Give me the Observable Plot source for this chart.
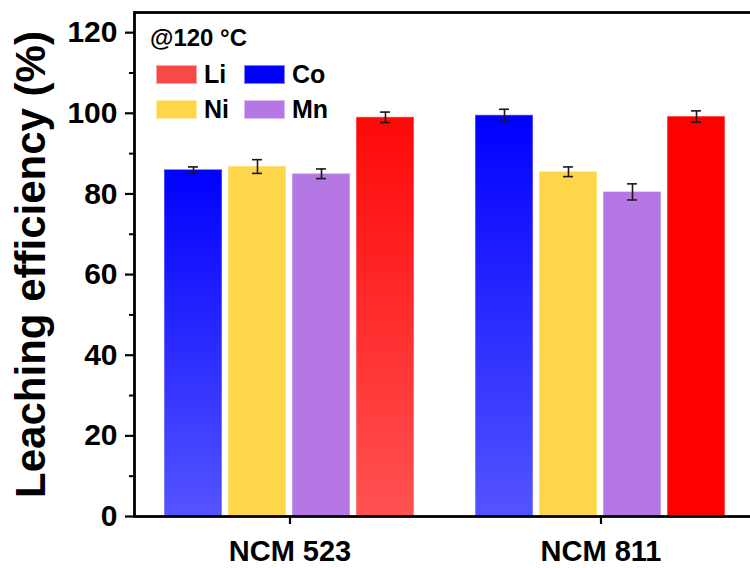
<!DOCTYPE html>
<html>
<head>
<meta charset="utf-8">
<script src="https://cdn.jsdelivr.net/npm/d3@7"></script>
<script src="https://cdn.jsdelivr.net/npm/@observablehq/plot@0.6"></script>
<style>
  html, body { margin: 0; padding: 0; background: #fff; overflow: hidden; }
  #chart { position: relative; width: 750px; height: 568px; overflow: hidden;
           font-family: "Liberation Sans", Arial, sans-serif; font-weight: bold; }
  #chart svg { position: absolute; left: 0; top: 0; max-width: none !important; width: 760px !important; height: 568px !important; }
  .legend { position: absolute; color: #000; }
  .legend .title { position: absolute; left: 150px; top: 26px; font-size: 24px; line-height: 24px; white-space: nowrap; }
  .legend .item { position: absolute; display: flex; align-items: center; font-size: 25px; line-height: 25px; white-space: nowrap; }
  .legend .swatch { width: 41px; height: 19px; margin-right: 7px; box-sizing: border-box; border: 1px solid rgba(255,255,255,0.5); }
</style>
</head>
<body>
<div id="chart"></div>
<script>
// Leaching efficiency of each metal for two cathode chemistries at 120 °C
const groups = ["NCM 523", "NCM 811"];
const elements = ["Co", "Ni", "Mn", "Li"];
const ncm523 = [86.0, 86.8, 85.0, 99.0];
const ncm811 = [99.5, 85.5, 80.5, 99.2];
const err523 = [0.7, 1.7, 1.2, 1.3];
const err811 = [1.5, 1.2, 2.0, 1.4];
const yTicks = [0, 20, 40, 60, 80, 100, 120];
const yMinor = [10, 30, 50, 70, 90, 110];
const yLabel = "Leaching efficiency (%)";
const legendTitle = "@120 °C";
const legendItems = ["Li", "Co", "Ni", "Mn"];

const values = [ncm523, ncm811];
const errors = [err523, err811];
const rows = groups.flatMap((g, gi) =>
  elements.map((e, i) => ({group: g, element: e, value: values[gi][i], err: errors[gi][i]}))
);

// bar paints (gradients are defined in <defs> after rendering)
const flat = {Ni: "#FFD54A", Mn: "#B477E3"};
function barFill(d) {
  if (d.element === "Co") return "url(#grad-co)";
  if (d.element === "Li") return d.group === groups[0] ? "url(#grad-li)" : "#FF0000";
  return flat[d.element];
}
const legendColor = {Li: "#F84848", Co: "#0000FF", Ni: "#FFD54A", Mn: "#B477E3"};

const font = "'Liberation Sans', Arial, sans-serif";

const plot = Plot.plot({
  width: 760,
  height: 568,
  marginLeft: 133,
  marginRight: 4,
  marginTop: 12,
  marginBottom: 52,
  style: {fontFamily: font, fontWeight: "bold", background: "white", overflow: "visible"},
  fx: {domain: groups, padding: 0, axis: null, label: null},
  x: {domain: elements, paddingInner: 0.093, paddingOuter: 0.465, axis: null},
  y: {domain: [0, 125], axis: null},
  color: {type: "identity"},
  marks: [
    Plot.barY(rows, {
      fx: "group", x: "element", y: "value", fill: barFill,
      stroke: "white", strokeOpacity: 0.45, strokeWidth: 1.2
    }),
    Plot.ruleX(rows, {
      fx: "group", x: "element", y1: d => d.value - d.err, y2: d => d.value + d.err,
      stroke: "#1a1a1a", strokeWidth: 1.6
    }),
    Plot.tickY(rows, {
      fx: "group", x: "element", y: d => d.value - d.err,
      stroke: "#1a1a1a", strokeWidth: 1.6, insetLeft: 24, insetRight: 24
    }),
    Plot.tickY(rows, {
      fx: "group", x: "element", y: d => d.value + d.err,
      stroke: "#1a1a1a", strokeWidth: 1.6, insetLeft: 24, insetRight: 24
    }),
    Plot.axisY(yMinor, {
      tickSize: 5, strokeWidth: 2, tickFormat: () => "", label: null
    }),
    Plot.axisY(yTicks, {
      tickSize: 9, tickPadding: 8, strokeWidth: 2.2, fontSize: 30, fontWeight: "bold",
      tickFormat: d => String(d), label: null
    }),
    Plot.axisFx({
      anchor: "bottom", tickSize: 8, tickPadding: 16, strokeWidth: 2.2,
      fontSize: 29, fontWeight: "bold", label: null
    }),
    Plot.frame({facet: "super", stroke: "black", strokeWidth: 2.8}),
    Plot.text([yLabel], {
      facet: "super", frameAnchor: "left", text: d => d, rotate: -90,
      dx: -103, fontSize: 42, fontWeight: "bold", fill: "black",
      textAnchor: "middle", lineAnchor: "middle"
    })
  ]
});

// gradient paints used by the Co bars and the NCM 523 Li bar
const svg = d3.select(plot);
const defs = svg.insert("defs", ":first-child");
function vGrad(id, top, bottom) {
  const g = defs.append("linearGradient").attr("id", id)
    .attr("x1", 0).attr("y1", 0).attr("x2", 0).attr("y2", 1);
  g.append("stop").attr("offset", "0%").attr("stop-color", top);
  g.append("stop").attr("offset", "100%").attr("stop-color", bottom);
}
vGrad("grad-co", "#0000FF", "#5454FF");
vGrad("grad-li", "#FF0808", "#FF5252");

const chart = document.getElementById("chart");
chart.appendChild(plot);

// legend drawn over the plot area
const legend = document.createElement("div");
legend.className = "legend";
const title = document.createElement("div");
title.className = "title";
title.textContent = legendTitle;
legend.appendChild(title);
const slots = [[156, 62], [244, 62], [156, 97], [244, 97]];
legendItems.forEach((name, i) => {
  const item = document.createElement("div");
  item.className = "item";
  item.style.left = slots[i][0] + "px";
  item.style.top = slots[i][1] + "px";
  const sw = document.createElement("span");
  sw.className = "swatch";
  sw.style.background = legendColor[name];
  const lab = document.createElement("span");
  lab.textContent = name;
  item.appendChild(sw);
  item.appendChild(lab);
  legend.appendChild(item);
});
chart.appendChild(legend);
</script>
</body>
</html>
